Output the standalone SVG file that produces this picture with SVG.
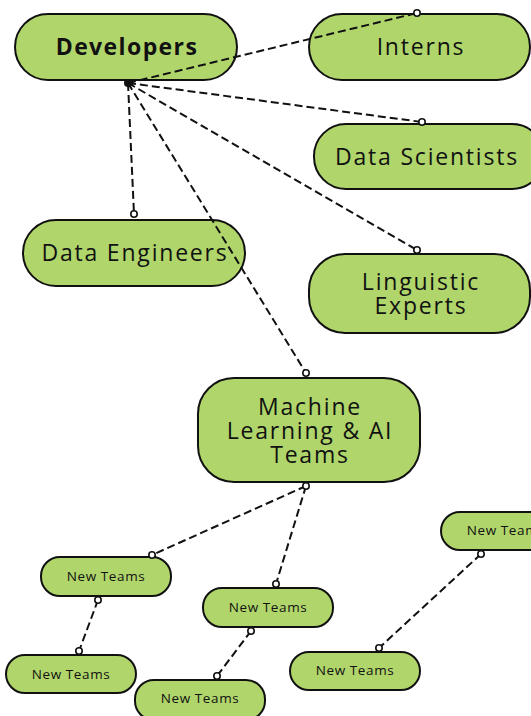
<svg xmlns="http://www.w3.org/2000/svg" width="531" height="716" viewBox="0 0 531 716">
<style>
.n{fill:#b0d66b;stroke:#111;stroke-width:2}
.t{font-family:"Open Sans",sans-serif;fill:#111;text-anchor:middle;dominant-baseline:central}
.big{font-size:23px;letter-spacing:1.8px}
.sm{font-size:13.5px;letter-spacing:0.6px}
.c{stroke:#111;stroke-width:2;stroke-dasharray:8 4;fill:none}
.d{fill:#fff;stroke:#111;stroke-width:1.6}
</style>
<rect width="531" height="716" fill="#fff"/>
<g id="developers"><rect class="n" x="15" y="14" width="222" height="66" rx="33"/><text class="t big" x="127" y="46" font-weight="bold" style="letter-spacing:1.4px">Developers</text></g>
<g id="interns"><rect class="n" x="309" y="14" width="221" height="66" rx="33"/><text class="t big" x="421" y="46">Interns</text></g>
<g id="data-scientists"><rect class="n" x="314" y="124" width="230" height="65" rx="32"/><text class="t big" x="427" y="156">Data Scientists</text></g>
<g id="data-engineers"><rect class="n" x="23" y="220" width="222" height="66" rx="33"/><text class="t big" x="135" y="252">Data Engineers</text></g>
<g id="linguistic-experts"><rect class="n" x="309" y="254" width="221" height="79" rx="36"/><text class="t big" x="421" y="281">Linguistic</text><text class="t big" x="421" y="305">Experts</text></g>
<g id="ml-teams"><rect class="n" x="198" y="378" width="222" height="104" rx="36"/><text class="t big" x="310" y="406">Machine</text><text class="t big" x="310" y="430">Learning &amp; AI</text><text class="t big" x="310" y="454">Teams</text></g>
<g id="nt1"><rect class="n" x="41" y="557" width="130" height="39" rx="19"/><text class="t sm" x="106" y="576">New Teams</text></g>
<g id="nt2"><rect class="n" x="203" y="588" width="130" height="39" rx="19"/><text class="t sm" x="268" y="607">New Teams</text></g>
<g id="nt3"><rect class="n" x="441" y="512" width="130" height="38" rx="19"/><text class="t sm" x="506" y="530">New Teams</text></g>
<g id="nt4"><rect class="n" x="6" y="655" width="130" height="38" rx="19"/><text class="t sm" x="71" y="674">New Teams</text></g>
<g id="nt5"><rect class="n" x="135" y="680" width="130" height="40" rx="19"/><text class="t sm" x="200" y="698">New Teams</text></g>
<g id="nt6"><rect class="n" x="290" y="652" width="130" height="38" rx="19"/><text class="t sm" x="355" y="670">New Teams</text></g>
<g id="connectors">
<path class="c" d="M128 83L417 13M128 83L422 122M128 83L134 214M128 83L417 250M128 83L306 373"/>
<path class="c" d="M306 486L152 555M306 486L276 584M98 600L79 651M251 631L217 676M481 554L379 648"/>
<circle cx="128" cy="83" r="4" fill="#111"/>
<circle class="d" cx="417" cy="13" r="3.2"/>
<circle class="d" cx="422" cy="122" r="3.2"/>
<circle class="d" cx="134" cy="214" r="3.2"/>
<circle class="d" cx="417" cy="250" r="3.2"/>
<circle class="d" cx="306" cy="373" r="3.2"/>
<circle class="d" cx="306" cy="486" r="3.2"/>
<circle class="d" cx="152" cy="555" r="3.2"/>
<circle class="d" cx="276" cy="584" r="3.2"/>
<circle class="d" cx="98" cy="600" r="3.2"/>
<circle class="d" cx="79" cy="651" r="3.2"/>
<circle class="d" cx="251" cy="631" r="3.2"/>
<circle class="d" cx="217" cy="676" r="3.2"/>
<circle class="d" cx="481" cy="554" r="3.2"/>
<circle class="d" cx="379" cy="648" r="3.2"/>
</g>
</svg>
